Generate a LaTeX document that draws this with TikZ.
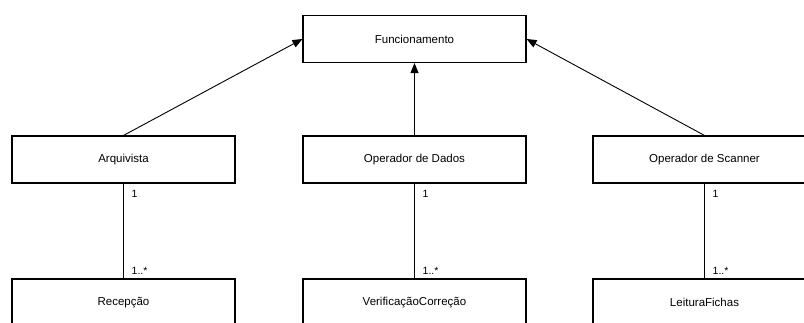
\documentclass[tikz,border=0pt]{standalone}
\usepackage{fontspec}
\setmainfont{Liberation Sans}
\usetikzlibrary{arrows.meta}
\begin{document}
\begin{tikzpicture}[x=1pt, y=-1pt,
  classbox/.style={draw=black, line width=1.1pt, fill=white, minimum width=223pt,
    minimum height=47pt, inner sep=0pt, font=\fontsize{11.5}{13}\selectfont},
  gen/.style={line width=0.9pt, -{Triangle[length=10pt, width=8pt]}},
  assoc/.style={line width=1pt},
  mult/.style={inner sep=0pt, font=\fontsize{10.5}{12}\selectfont}]
  \useasboundingbox (0,0) rectangle (804,322);
  \clip (0,0) rectangle (804,322);

  % superclass
  \node[classbox] (func) at (414.5,39) {Funcionamento};

  % roles
  \node[classbox] (arq) at (123.5,159.5) {Arquivista};
  \node[classbox] (opd) at (414.5,159.5) {Operador de Dados};
  \node[classbox] (ops) at (704.5,159.5) {Operador de Scanner};

  % activities (running past the lower and right edges)
  \node[classbox] (rec) at (123.5,302.5) {Recepção};
  \node[classbox] (ver) at (414.5,302.5) {VerificaçãoCorreção};
  \node[classbox] (lei) at (704.5,302.5) {LeituraFichas};

  % generalisations
  \draw[gen] (arq.north) -- (func.west);
  \draw[gen] (opd.north) -- (func.south);
  \draw[gen] (ops.north) -- (func.east);

  % associations with multiplicities
  \foreach \a/\b in {arq/rec, opd/ver, ops/lei} {
    \draw[assoc] (\a.south) -- (\b.north);
    \node[mult, anchor=north west] at ([xshift=8pt, yshift=-7pt]\a.south) {1};
    \node[mult, anchor=south west] at ([xshift=8pt, yshift=4pt]\b.north) {1..*};
  }
\end{tikzpicture}
\end{document}
